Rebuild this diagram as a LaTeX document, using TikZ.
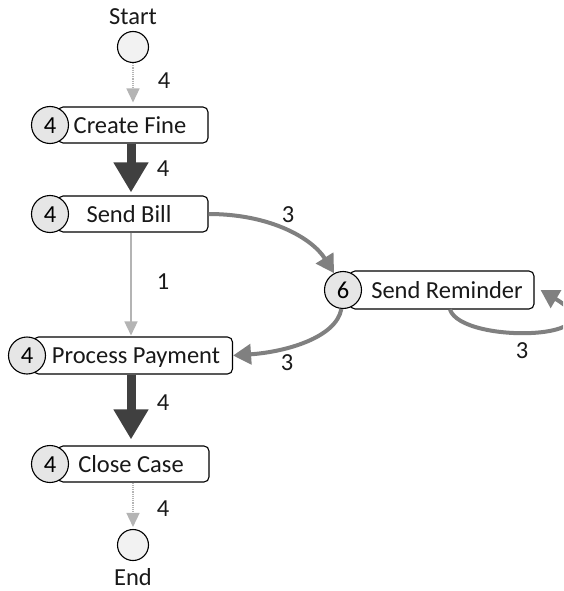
\documentclass[tikz,border=0pt]{standalone}
\usepackage{fontspec}
\setmainfont{Carlito}
\usetikzlibrary{arrows.meta}
\definecolor{dk}{HTML}{404040}
\definecolor{md}{HTML}{808080}
\definecolor{lt}{HTML}{B4B4B4}
\definecolor{cfill}{HTML}{E6E6E6}
\definecolor{sfill}{HTML}{F2F2F2}
\begin{document}
\begin{tikzpicture}[x=1pt,y=-1pt,
 font=\fontsize{24.5}{28}\selectfont,
 box/.style={draw=black, line width=1.1pt, rounded corners=5pt, fill=white, minimum height=36pt, inner sep=0pt},
 cnt/.style={circle, draw=black, line width=1.1pt, fill=cfill, minimum size=37pt, inner sep=0pt, text height=16pt, text depth=0pt},
 term/.style={circle, draw=black, line width=1.1pt, fill=sfill, minimum size=31pt, inner sep=0pt},
 txt/.style={inner sep=0pt, text=black!90, text height=16pt, text depth=0pt},
 heavy/.style={draw=dk, line width=9pt, -{Triangle[width=33pt,length=30pt]}},
 medium/.style={draw=md, line width=4pt, -{Triangle[width=20pt,length=18pt]}},
 light/.style={draw=lt, line width=1.5pt, -{Triangle[width=13pt,length=14pt]}},
 dots/.style={draw=lt, line width=1.5pt, dash pattern=on 1.2pt off 1pt, -{Triangle[width=13pt,length=14pt]}}
]
\clip (0,0) rectangle (563,591);
\fill[white] (0,0) rectangle (563,591);

% terminals
\node[txt] (startt) at (133,17) {Start};
\node[term] (start) at (133,47) {};
\node[term] (end) at (133,545) {};
\node[txt] (endt) at (133,577) {End};

% activities
\node[box, minimum width=150pt] (cf) at (133,125) {};
\node[txt] (cft) at (130,125) {Create Fine};
\node[cnt] (cfc) at (50,125) {4};

\node[box, minimum width=150pt] (sb) at (133,214) {};
\node[txt] (sbt) at (129,214) {Send Bill};
\node[cnt] (sbc) at (50,214) {4};

\node[box, minimum width=184pt, minimum height=38pt] (sr) at (442,290) {};
\node[txt] (srt) at (447,290) {Send Reminder};
\node[cnt] (src) at (343,290) {6};

\node[box, minimum width=199pt, minimum height=37pt] (pp) at (133,355.5) {};
\node[txt] (ppt) at (136,355.5) {Process Payment};
\node[cnt] (ppc) at (27,355.5) {4};

\node[box, minimum width=151pt] (cc) at (133.5,464) {};
\node[txt] (cct) at (131,464) {Close Case};
\node[cnt] (ccc) at (50,464) {4};

\coordinate (colA) at (131,0);
\coordinate (colB) at (133,0);
\coordinate (loopx) at (450,0);

% edges
\draw[dots, shorten >=4pt] (start) -- (start |- cf.north);
\draw[heavy, shorten >=3pt] (cf.south -| colA) -- (sb.north -| colA);
\draw[light, shorten >=1pt] (sb.south -| colA) -- (pp.north -| colA);
\draw[heavy, shorten >=6pt] (pp.south -| colA) -- (cc.north -| colA);
\draw[dots, shorten >=2pt] (cc.south -| colB) -- (end);

\draw[medium] (sb.east) .. controls (270,214) and (312,238) .. (src.118);
\draw[medium] (src.-95) .. controls (336,338) and (285,352) .. (pp.east);
\draw[medium] (sr.south -| loopx) .. controls (462,345) and (625,340) .. ([xshift=6pt]sr.east);

% edge labels
\node[txt] (l1) at (164,81) {4};
\node[txt] (l2) at (163,168) {4};
\node[txt] (l3) at (288,214) {3};
\node[txt] (l4) at (163,281) {1};
\node[txt] (l5) at (287,362) {3};
\node[txt] (l6) at (522,350) {3};
\node[txt] (l7) at (163,402) {4};
\node[txt] (l8) at (163,508) {4};
\end{tikzpicture}
\end{document}
